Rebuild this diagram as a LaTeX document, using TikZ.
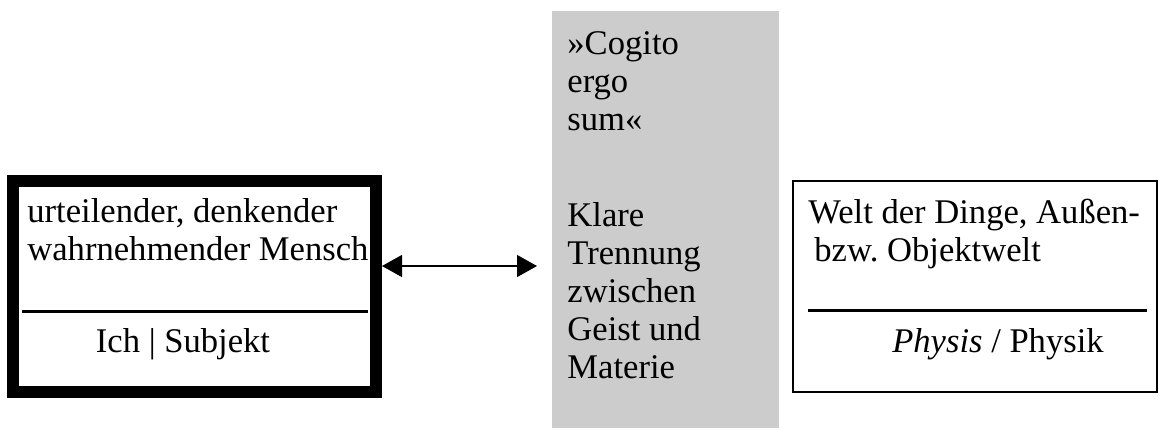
\documentclass[tikz,border=0pt]{standalone}
\usepackage{fontspec}
\setmainfont{Liberation Serif}
\usetikzlibrary{arrows.meta}
\frenchspacing

\newcommand{\boxfont}{\fontsize{17.3pt}{19pt}\selectfont}

\begin{document}
\begin{tikzpicture}[
    x=0.5pt, y=-0.5pt,
    txt/.style={inner sep=0pt, anchor=base west, align=left, font=\boxfont},
    mid/.style={inner sep=0pt, anchor=base, font=\boxfont},
    frame/.style={draw, inner sep=0pt, minimum width=#1},
    rule/.style={line width=1.5pt},
    biarrow/.style={{Triangle[length=10pt,width=11pt]}-{Triangle[length=10pt,width=11pt]}, line width=0.6pt}
]
\useasboundingbox (0,0) rectangle (1159,430);

% Subjekt (left, heavy frame)
\node[frame=181.5pt, minimum height=105.5pt, line width=6pt] (ich) at (194.5,286.5) {};
% multi-line nodes sit on their last baseline
\node[txt] (ichtop) at (27,260) {urteilender, denkender\\wahrnehmender Mensch};
\draw[rule] (22,311) -- (368,311);
\node[mid] (ichbot) at (183,352) {Ich | Subjekt};

% Cogito (middle, grey column)
\node[fill=black!20, inner sep=0pt, minimum width=113.5pt, minimum height=208.5pt] (cogito) at (665.5,219.5) {};
\node[txt] (cogtop) at (567,130) {»Cogito\\ergo\\sum«};
\node[txt] (cogbot) at (567,378) {Klare\\Trennung\\zwischen\\Geist und\\Materie};

% Objekt (right, thin frame)
\node[frame=182pt, minimum height=105.5pt, line width=0.75pt] (welt) at (975,286.5) {};
\node[txt] (welttop) at (808,261) {Welt der Dinge, Außen-\\\hspace{3pt}bzw. Objektwelt};
\draw[rule] (808,310) -- (1147,310);
\node[mid] (weltbot) at (998,352) {\textit{Physis} / Physik};

% Verbindung
\coordinate (tip) at (537,266);
\draw[biarrow] (ich.east |- tip) -- (tip);

\end{tikzpicture}
\end{document}
